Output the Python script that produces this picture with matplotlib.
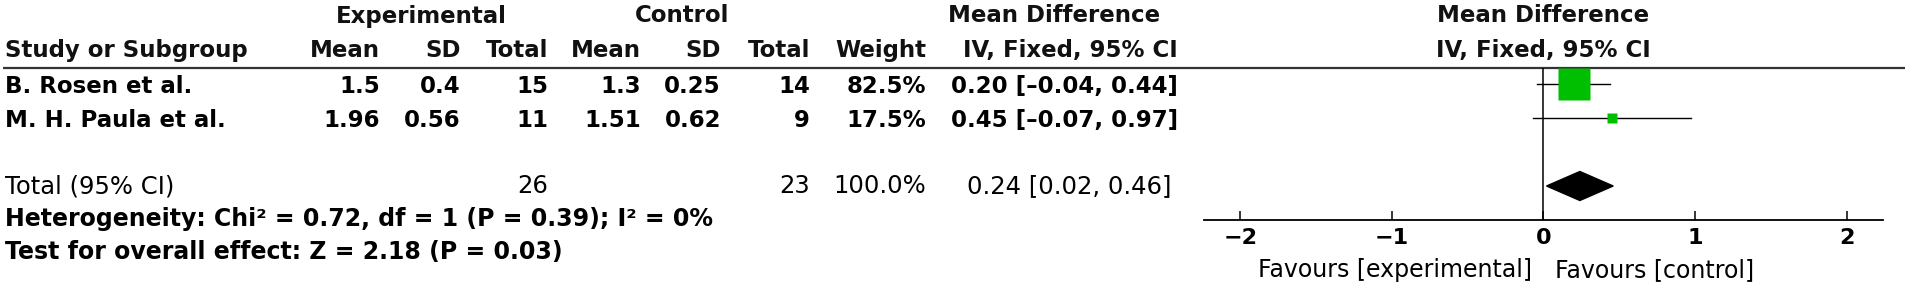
import numpy as np
import matplotlib.pyplot as plt
from matplotlib.patches import Polygon

# study data
studies = ["B. Rosen et al.", "M. H. Paula et al."]
exp_mean = ["1.5", "1.96"]
exp_sd = ["0.4", "0.56"]
exp_n = [15, 11]
ctl_mean = ["1.3", "1.51"]
ctl_sd = ["0.25", "0.62"]
ctl_n = [14, 9]
weights = [82.5, 17.5]
md = [0.20, 0.45]
ci_lo = [-0.04, -0.07]
ci_hi = [0.44, 0.97]

# pooled result
total_exp_n = 26
total_ctl_n = 23
total_weight = 100.0
total_md = 0.24
total_lo = 0.02
total_hi = 0.46
het_text = "Heterogeneity: Chi² = 0.72, df = 1 (P = 0.39); I² = 0%"
effect_text = "Test for overall effect: Z = 2.18 (P = 0.03)"
x_ticks = [-2, -1, 0, 1, 2]

W, H = 1908, 288
ROW0, PITCH = 84, 34  # pixel centre of first study row, row pitch


def row_of(px):
    return (px - ROW0) / PITCH


def ci_str(m, lo, hi):
    return f"{m:.2f} [{lo:.2f}, {hi:.2f}]".replace("-", "\u2013")


fig = plt.figure(figsize=(W / 100, H / 100), dpi=100)
fig.patch.set_facecolor("white")

# table part, drawn in pixel-like units
tab = fig.add_axes([0, 0, 1, 1])
tab.set_xlim(0, W)
tab.set_ylim(row_of(H), row_of(0))
tab.axis("off")

hdr = dict(fontsize=16.5, fontweight="bold", color="#111111", va="center")
tab.text(421, -2, "Experimental", ha="center", **hdr)
tab.text(682, -2, "Control", ha="center", **hdr)
tab.text(1054, -2, "Mean Difference", ha="center", **hdr)
tab.text(5, -1, "Study or Subgroup", ha="left", **hdr)
col_right = [380, 461, 548, 641, 721, 810, 926, 1178]
col_names = ["Mean", "SD", "Total", "Mean", "SD", "Total", "Weight", "IV, Fixed, 95% CI"]
for x, name in zip(col_right, col_names):
    tab.text(x, -1, name, ha="right", **hdr)

tab.plot([3, 1905], [row_of(67.5)] * 2, color="#333333", lw=1.6, solid_capstyle="butt")

row_kw = dict(fontsize=16.5, fontweight="bold", color="black", va="center")
for i in range(len(studies)):
    y = i + 0.07
    tab.text(5, y, studies[i], ha="left", **row_kw)
    vals = [exp_mean[i], exp_sd[i], str(exp_n[i]), ctl_mean[i], ctl_sd[i],
            str(ctl_n[i]), f"{weights[i]:.1f}%", ci_str(md[i], ci_lo[i], ci_hi[i])]
    for x, v in zip(col_right, vals):
        tab.text(x, y, v, ha="right", **row_kw)

tot_kw = dict(fontsize=17.5, color="black", va="center")
ty = 3.0
tab.text(5, ty, "Total (95% CI)", ha="left", **tot_kw)
tab.text(col_right[2], ty, str(total_exp_n), ha="right", **tot_kw)
tab.text(col_right[5], ty, str(total_ctl_n), ha="right", **tot_kw)
tab.text(col_right[6], ty, f"{total_weight:.1f}%", ha="right", **tot_kw)
tab.text(col_right[7] - 6, ty, ci_str(total_md, total_lo, total_hi), ha="right", **tot_kw)

foot_kw = dict(fontsize=17, fontweight="bold", color="black", va="center", ha="left")
tab.text(5, row_of(219), het_text, **foot_kw)
tab.text(5, row_of(252), effect_text, **foot_kw)

# forest plot
left, right, top, bottom = 1204, 1883, 68, 220
ax = fig.add_axes([left / W, (H - bottom) / H, (right - left) / W, (bottom - top) / H])
ax.patch.set_visible(False)
ax.set_xlim(-2.24, 2.24)
ax.set_ylim(row_of(bottom), row_of(top))
for s in ["top", "left", "right"]:
    ax.spines[s].set_visible(False)
ax.spines["bottom"].set_linewidth(1.3)
ax.set_yticks([])
ax.set_xticks(x_ticks)
ax.tick_params(axis="x", direction="in", length=6.5, width=1.1, pad=6, labelsize=16)
for lbl in ax.get_xticklabels():
    lbl.set_fontweight("bold")

ax.axvline(0, color="black", lw=1.1)

for i in range(len(studies)):
    ax.plot([ci_lo[i], ci_hi[i]], [i, i], color="black", lw=1.0, zorder=2)
    side_px = 32 * (weights[i] / max(weights)) ** 0.8
    ax.plot(md[i], i, marker="s", ms=side_px * 0.72, color="#00bf00",
            mec="none", zorder=3)

half_h = 14.5 / PITCH
ax.add_patch(Polygon([(total_lo, ty), (total_md, ty - half_h),
                      (total_hi, ty), (total_md, ty + half_h)],
                     closed=True, color="black", zorder=3))

ax.text(0, row_of(16), "Mean Difference", ha="center", clip_on=False, **hdr)
ax.text(0, row_of(50), "IV, Fixed, 95% CI", ha="center", clip_on=False, **hdr)

fav_kw = dict(fontsize=17, color="black", va="center", textcoords="offset points",
              xycoords=("data", "axes fraction"), annotation_clip=False)
ax.annotate("Favours [experimental]", xy=(0, 0), xytext=(-8, -36), ha="right", **fav_kw)
ax.annotate("Favours [control]", xy=(0, 0), xytext=(8, -36), ha="left", **fav_kw)

fig.savefig("out.png", dpi=100)
